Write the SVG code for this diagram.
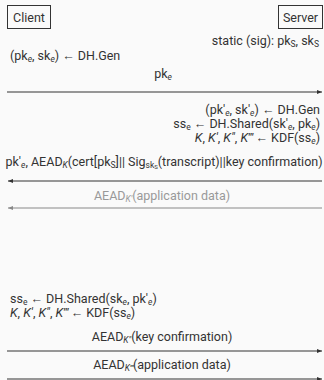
<svg xmlns="http://www.w3.org/2000/svg" width="324" height="380" viewBox="0 0 324 380">
<style>
text{font-family:Roboto,"Liberation Sans",sans-serif;font-size:12.5px;fill:#333}
.s{font-size:8.5px}
.g{fill:#999}
.box{fill:none;stroke:#333;stroke-width:1}
.ln{stroke:#333;stroke-width:1;fill:none}
.lg{stroke:#888;stroke-width:1;fill:none}
.i{font-style:italic}
</style>
<defs>
<marker id="ah" markerWidth="6" markerHeight="6" refX="5" refY="3" orient="auto" markerUnits="userSpaceOnUse"><path d="M0,1 L5,3 L0,5 Z" fill="#333"/></marker>
<marker id="ahg" markerWidth="6" markerHeight="6" refX="5" refY="3" orient="auto" markerUnits="userSpaceOnUse"><path d="M0,1 L5,3 L0,5 Z" fill="#888"/></marker>
</defs>
<rect width="324" height="380" fill="#fafafa"/>
<g id="client"><rect class="box" x="7.5" y="5.5" width="43" height="23"/><text x="29" y="21.5" text-anchor="middle">Client</text></g>
<g id="server"><rect class="box" x="278.5" y="5.5" width="44" height="23"/><text x="300.5" y="21.5" text-anchor="middle">Server</text></g>
<g id="notes">
<text x="319" y="45" text-anchor="end">static (sig): pk<tspan class="s" dy="2">S</tspan><tspan dy="-2">, sk</tspan><tspan class="s" dy="2">S</tspan></text>
<text x="10" y="60">(pk<tspan class="s i" dy="2">e</tspan><tspan dy="-2">, sk</tspan><tspan class="s i" dy="2">e</tspan><tspan dy="-2">) ← DH.Gen</tspan></text>
<text x="320" y="114" text-anchor="end">(pk′<tspan class="s i" dy="2">e</tspan><tspan dy="-2">, sk′</tspan><tspan class="s i" dy="2">e</tspan><tspan dy="-2">) ← DH.Gen</tspan></text>
<text x="320" y="128" text-anchor="end">ss<tspan class="s" dy="2">e</tspan><tspan dy="-2"> ← DH.Shared(sk′</tspan><tspan class="s i" dy="2">e</tspan><tspan dy="-2">, pk</tspan><tspan class="s i" dy="2">e</tspan><tspan dy="-2">)</tspan></text>
<text x="320" y="142" text-anchor="end"><tspan class="i">K</tspan>, <tspan class="i">K′</tspan>, <tspan class="i">K″</tspan>, <tspan class="i">K‴</tspan> ← KDF(ss<tspan class="s i" dy="2">e</tspan><tspan dy="-2">)</tspan></text>
<text x="10" y="303">ss<tspan class="s" dy="2">e</tspan><tspan dy="-2"> ← DH.Shared(sk</tspan><tspan class="s i" dy="2">e</tspan><tspan dy="-2">, pk′</tspan><tspan class="s i" dy="2">e</tspan><tspan dy="-2">)</tspan></text>
<text x="10" y="317"><tspan class="i">K</tspan>, <tspan class="i">K′</tspan>, <tspan class="i">K″</tspan>, <tspan class="i">K‴</tspan> ← KDF(ss<tspan class="s i" dy="2">e</tspan><tspan dy="-2">)</tspan></text>
</g>
<g id="connectors">
<line class="ln" x1="7" y1="92" x2="322" y2="92" marker-end="url(#ah)"/>
<text x="163" y="78" text-anchor="middle">pk<tspan class="s i" dy="2">e</tspan></text>
<line class="ln" x1="322" y1="181" x2="8" y2="181" marker-end="url(#ah)"/>
<text x="164" y="166" text-anchor="middle">pk′<tspan class="s i" dy="2">e</tspan><tspan dy="-2">, AEAD</tspan><tspan class="s i" dy="2">K</tspan><tspan dy="-2">(cert[pk</tspan><tspan class="s" dy="2">S</tspan><tspan dy="-2">]|| Sig</tspan><tspan class="s" dy="2">sk<tspan style="font-size:6px" dy="1">S</tspan></tspan><tspan dy="-3">(transcript)||key confirmation)</tspan></text>
<line class="lg" x1="322" y1="208" x2="8" y2="208" marker-end="url(#ahg)"/>
<text class="g" x="162" y="200" text-anchor="middle">AEAD<tspan class="s i" dy="2">K′</tspan><tspan dy="-2">(application data)</tspan></text>
<line class="ln" x1="7" y1="351" x2="322" y2="351" marker-end="url(#ah)"/>
<text x="162" y="341" text-anchor="middle">AEAD<tspan class="s i" dy="2">K″</tspan><tspan dy="-2">(key confirmation)</tspan></text>
<line class="ln" x1="7" y1="379" x2="322" y2="379" marker-end="url(#ah)"/>
<text x="162" y="369" text-anchor="middle">AEAD<tspan class="s i" dy="2">K‴</tspan><tspan dy="-2">(application data)</tspan></text>
</g>
</svg>
